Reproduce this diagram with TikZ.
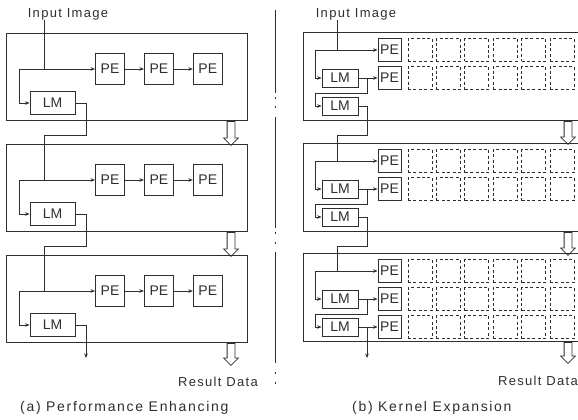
\documentclass[tikz,border=0pt]{standalone}
\usepackage{fontspec}
\setmainfont{Liberation Sans}
\newfontfamily\labelfont[LetterSpace=10]{Liberation Sans}
\newfontfamily\capfont[LetterSpace=12]{Liberation Sans}
\usetikzlibrary{arrows.meta,positioning,calc,shapes.arrows}
\colorlet{ink}{black!82}
\tikzset{
  arch/unit/.style={draw=ink, line width=1pt, minimum height=87pt, inner sep=0pt},
  arch/pe/.style={draw=ink, line width=0.9pt, minimum width=29pt, minimum height=31pt, inner sep=0pt, text=ink, font=\fontsize{14}{14}\selectfont},
  arch/lm/.style={arch/pe, minimum width=45pt, minimum height=23pt},
  arch/pes/.style={arch/pe, minimum width=23pt, minimum height=23pt},
  arch/lms/.style={arch/pe, minimum width=36pt, minimum height=18pt},
  arch/ghost/.style={draw=ink, line width=1pt, dash pattern=on 3pt off 2.4pt, minimum width=24pt, minimum height=23pt, inner sep=0pt},
  arch/wire/.style={draw=ink, line width=0.8pt},
  arch/arr/.style={arch/wire, -{Stealth[length=4.5pt,width=3.6pt]}},
  arch/flow/.style={single arrow, draw=ink, line width=0.8pt, rotate=-90, inner xsep=0pt, inner ysep=3.5pt, single arrow head extend=3.5pt, single arrow head indent=0pt},
  arch/label/.style={inner sep=0pt, text=ink, font=\labelfont\fontsize{13}{15}\selectfont},
  arch/caption/.style={inner sep=0pt, text=ink, font=\capfont\fontsize{14}{16}\selectfont},
  arch/divider/.style={draw=ink, line width=0.9pt}
}

\begin{document}
\begin{tikzpicture}[x=1pt, y=-1pt]
  \useasboundingbox (0,0) rectangle (578,420);
  \clip (0,0) rectangle (578,420);

  % (a) three units, PE chain fed by LM
  \node[arch/label] (ina) at (68,14) {Input Image};
  \foreach \i/\t in {0/33,1/144,2/255}{
    \node[arch/unit, minimum width=241pt, anchor=north west] (ua\i) at (6,\t) {};
    \node[arch/pe] (pea\i1) at (110,\t+36) {PE};
    \node[arch/pe, right=19pt of pea\i1] (pea\i2) {PE};
    \node[arch/pe, right=19pt of pea\i2] (pea\i3) {PE};
    \node[arch/lm] (lma\i) at (52.5,\t+70) {LM};
    \coordinate (taka\i) at (44,\t+36);
    \coordinate (forka\i) at (19,\t+36);
    \coordinate (dropa\i) at (86,\t+102);
    \draw[arch/arr] (forka\i) -- (pea\i1);
    \draw[arch/arr] (forka\i) |- (lma\i.west);
    \draw[arch/arr] (pea\i1) -- (pea\i2);
    \draw[arch/arr] (pea\i2) -- (pea\i3);
  }
  \draw[arch/wire] (ina.south -| taka0) -- (taka0);
  \foreach \i/\j in {0/1,1/2}{
    \draw[arch/wire] (lma\i.east) -| (dropa\i) -- (dropa\i -| taka\j) -- (taka\j);
    \node[arch/flow, minimum height=24pt, anchor=west] (fa\i) at ([xshift=-17pt]ua\i.south east) {};
  }
  \coordinate (outa) at (86,358);
  \draw[arch/arr] (lma2.east) -| (outa);
  \node[arch/flow, minimum height=22pt, anchor=west] (fa2) at ([xshift=-17pt]ua2.south east) {};
  \node[arch/label] (resa) at (218,382) {Result Data};
  \node[arch/caption, anchor=west] (capa) at (20,408) {(a) Performance Enhancing};

  % divider
  \foreach \a/\b in {10/93,117/228,252/363}
    \draw[arch/divider] (275,\a) -- (275,\b);
  \foreach \y in {98,107,233,243,373,383}
    \draw[arch/divider] (275,\y-1.3) -- (275,\y+1.3);

  % (b) kernel expansion, PE rows with spare slots
  \node[arch/label] (inb) at (356,14) {Input Image};
  \foreach \i/\t in {0/32,1/143,2/253}{
    \node[arch/unit, minimum width=290pt, minimum height=88pt, anchor=north west] (ub\i) at (303,\t) {};
    \node[arch/pes] (peb\i1) at (389.5,\t+18) {PE};
    \node[arch/pes] (peb\i2) at (389.5,\t+46) {PE};
    \foreach \k in {0,...,5}{
      \node[arch/ghost] (gb\i1\k) at (420+28.4*\k,\t+18) {};
      \node[arch/ghost] (gb\i2\k) at (420+28.4*\k,\t+46) {};
    }
    \node[arch/lms] (lmb\i1) at (340,\t+46) {LM};
    \node[arch/lms] (lmb\i2) at (340,\t+74) {LM};
    \coordinate (takb\i) at (337,\t+18);
    \coordinate (forkb\i) at (315,\t+18);
    \coordinate (splitb\i) at (367,\t+46);
    \coordinate (turnb\i) at (367,\t+61);
    \coordinate (backb\i) at (315,\t+61);
    \coordinate (dropb\i) at (367,\t+103);
    \draw[arch/arr] (forkb\i) -- (peb\i1);
    \draw[arch/arr] (forkb\i) |- (lmb\i1.west);
    \draw[arch/wire] (lmb\i1.east) -- (splitb\i);
    \draw[arch/arr] (splitb\i) -- (peb\i2);
    \draw[arch/wire] (splitb\i) -- (turnb\i) -- (backb\i);
    \draw[arch/arr] (backb\i) |- (lmb\i2.west);
  }
  \draw[arch/wire] (inb.south -| takb0) -- (takb0);
  \foreach \i/\j in {0/1,1/2}{
    \draw[arch/wire] (lmb\i2.east) -| (dropb\i) -- (dropb\i -| takb\j) -- (takb\j);
    \node[arch/flow, minimum height=23pt, anchor=west] (fb\i) at ([xshift=-10pt]ub\i.south -| 578,0) {};
  }
  \node[arch/pes] (peb23) at (389.5,327) {PE};
  \foreach \k in {0,...,5}
    \node[arch/ghost] (gb23\k) at (420+28.4*\k,327) {};
  \coordinate (splitb2x) at (367,327);
  \coordinate (outb) at (367,358);
  \draw[arch/wire] (lmb22.east) -- (splitb2x);
  \draw[arch/arr] (splitb2x) -- (peb23);
  \draw[arch/arr] (splitb2x) -- (outb);
  \node[arch/flow, minimum height=21pt, anchor=west] (fb2) at ([xshift=-10pt]ub2.south -| 578,0) {};
  \node[arch/label, anchor=west] (resb) at (498,381) {Result Data};
  \node[arch/caption, anchor=west] (capb) at (352,408) {(b) Kernel Expansion};
\end{tikzpicture}
\end{document}
